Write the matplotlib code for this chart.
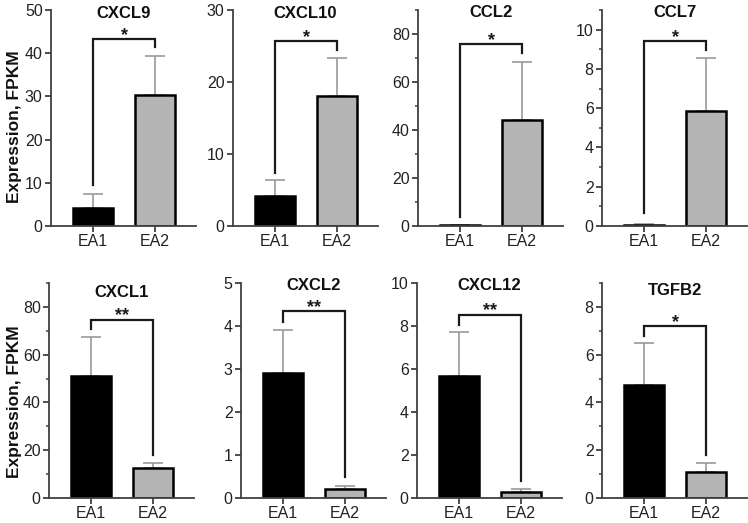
import matplotlib
matplotlib.use("Agg")
import matplotlib.pyplot as plt
from matplotlib.ticker import MultipleLocator

plt.rcParams['font.family'] = ['Liberation Sans', 'DejaVu Sans']

groups = ["EA1", "EA2"]
genes = ["CXCL9", "CXCL10", "CCL2", "CCL7", "CXCL1", "CXCL2", "CXCL12", "TGFB2"]
ea1_mean = [4.2, 4.1, 0.3, 0.07, 51.0, 2.9, 5.68, 4.72]
ea1_err = [3.2, 2.3, 0.3, 0.04, 16.4, 1.0, 2.06, 1.78]
ea2_mean = [30.3, 18.1, 44.2, 5.85, 12.7, 0.2, 0.28, 1.09]
ea2_err = [9.1, 5.2, 24.0, 2.7, 2.0, 0.09, 0.16, 0.38]
stars = ["*", "*", "*", "*", "**", "**", "**", "*"]
# bracket: top height, left leg bottom, right leg bottom
bracket_top = [43.3, 25.7, 75.7, 9.4, 74.7, 4.34, 8.52, 7.19]
bracket_left = [9.5, 7.4, 3.9, 0.65, 70.9, 4.1, 8.06, 6.8]
bracket_right = [41.4, 24.4, 71.9, 8.98, 18.2, 0.49, 0.8, 1.82]
y_max = [50, 30, 90, 11, 90, 5, 10, 9]
y_major = [10, 10, 20, 2, 20, 1, 2, 2]
y_minor = [None, None, 10, 1, 10, None, None, 1]
ylabel = "Expression, FPKM"

W, H = 748, 523
fig = plt.figure(figsize=(W / 100, H / 100), dpi=100)

lefts = [51, 233, 418, 602, 49, 241, 417, 602]
row_top = [10, 283]
row_bot = [226, 498]
title_base = [18, 18, 17, 17, 297, 290, 290, 295]
aw = 145

spine_col = "#404040"
for i, g in enumerate(genes):
    r = i // 4
    top, bot = row_top[r], row_bot[r]
    ax = fig.add_axes([lefts[i] / W, (H - bot) / H, aw / W, (bot - top) / H])
    x = [0, 1]
    ax.bar(x, [ea1_mean[i], ea2_mean[i]], width=0.65,
           color=["black", "#b4b4b4"], edgecolor="black", linewidth=1.8, zorder=2)
    ax.errorbar(x, [ea1_mean[i], ea2_mean[i]],
                yerr=[[0, 0], [ea1_err[i], ea2_err[i]]],
                fmt="none", ecolor="#9a9a9a", elinewidth=1.2, capsize=7.5,
                capthick=1.2, zorder=1)
    ax.plot([0, 0, 1, 1], [bracket_left[i], bracket_top[i], bracket_top[i], bracket_right[i]],
            color="#1a1a1a", lw=1.6, solid_joinstyle="miter", zorder=3)
    ax.annotate(stars[i], xy=(0.5, bracket_top[i]), xytext=(0, -0.5),
                textcoords="offset points", ha="center", va="baseline",
                fontsize=13, fontweight="bold", color="#1a1a1a")
    ax.set_xlim(-0.677, 1.66)
    ax.set_ylim(0, y_max[i])
    ax.yaxis.set_major_locator(MultipleLocator(y_major[i]))
    if y_minor[i]:
        ax.yaxis.set_minor_locator(MultipleLocator(y_minor[i]))
    ax.set_xticks(x)
    ax.set_xticklabels(groups)
    for s in ["top", "right"]:
        ax.spines[s].set_visible(False)
    for s in ["left", "bottom"]:
        ax.spines[s].set_color(spine_col)
        ax.spines[s].set_linewidth(1.3)
    ax.tick_params(axis="both", which="major", length=4, width=1.3, color=spine_col,
                   labelsize=11.5, labelcolor="#222222", pad=2)
    ax.tick_params(axis="y", which="minor", length=2.5, width=1.1, color=spine_col)
    ax.patch.set_alpha(0)
    frac = (bot - title_base[i]) / (bot - top)
    ax.text(0.5, frac, g, transform=ax.transAxes, ha="center", va="baseline",
            fontsize=12, fontweight="bold", color="#111111")

fig.text(15 / W, 1 - 126.5 / H, ylabel, rotation=90, ha="center", va="center",
         fontsize=12.5, fontweight="bold", color="#111111")
fig.text(15 / W, 1 - 401.7 / H, ylabel, rotation=90, ha="center", va="center",
         fontsize=12.5, fontweight="bold", color="#111111")

fig.savefig("out.png", dpi=100)
